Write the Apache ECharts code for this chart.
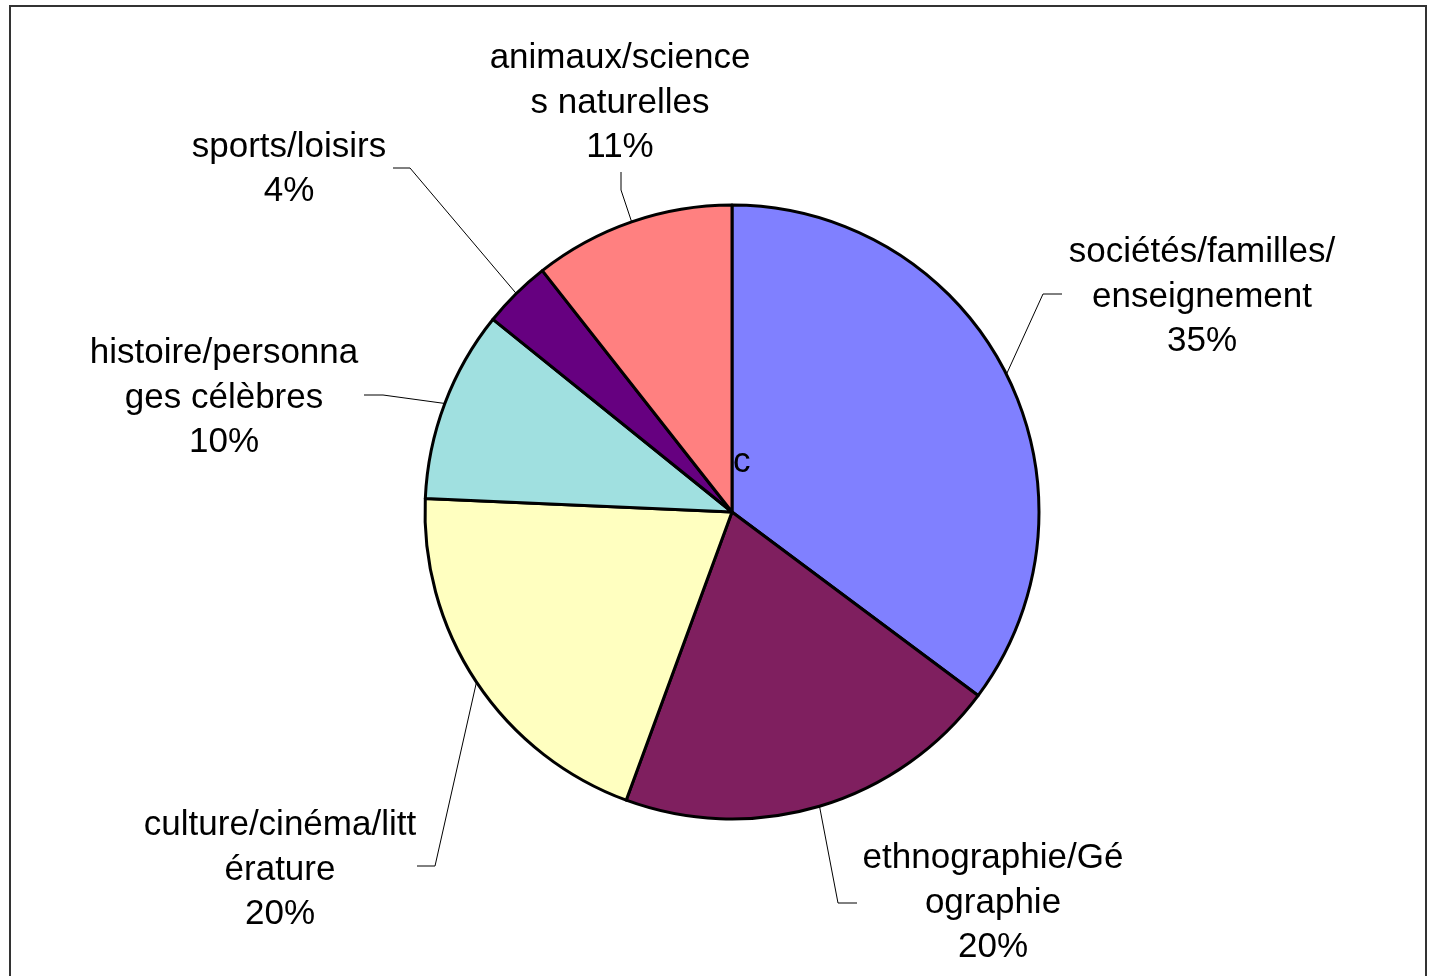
<!DOCTYPE html>
<html>
<head>
<meta charset="utf-8">
<script src="https://cdn.jsdelivr.net/npm/echarts@6/dist/echarts.min.js"></script>
<style>
html,body{margin:0;padding:0;background:#fff;}
#chart{width:1429px;height:976px;}
</style>
</head>
<body>
<div id="chart"></div>
<script>
// ---- data ----
const categories = [
  'sociétés/familles/enseignement',
  'ethnographie/Géographie',
  'culture/cinéma/littérature',
  'histoire/personnages célèbres',
  'sports/loisirs',
  'animaux/sciences naturelles'
];
const values = [35.2, 20.4, 20.1, 10.1, 3.6, 10.6];
const labelTexts = [
  'sociétés/familles/\nenseignement',
  'ethnographie/Gé\nographie',
  'culture/cinéma/litt\nérature',
  'histoire/personna\nges célèbres',
  'sports/loisirs',
  'animaux/science\ns naturelles'
];

// ---- layout / style (not data) ----
const colors = ['#8080FF', '#7F1F5F', '#FFFFC0', '#A0E0E0', '#660080', '#FF8080'];
const labelPos = [[1202, 297], [993, 903], [280, 870], [224, 398], [289, 169.5], [620, 103]];
const leaderPts = [
  [[1043, 294], [1062, 294]],
  [[838, 903], [857, 903]],
  [[435, 866], [417, 866]],
  [[383, 395], [364, 395]],
  [[410, 168], [393, 168]],
  [[621, 190], [621, 172]]
];
const FONT = '"Liberation Sans", Arial, sans-serif';

const chart = echarts.init(document.getElementById('chart'), null, {renderer: 'canvas'});
chart.setOption({
  animation: false,
  backgroundColor: '#ffffff',
  graphic: [
    {type: 'rect', shape: {x: 10, y: 6, width: 1416, height: 1010},
     style: {fill: 'none', stroke: '#333333', lineWidth: 2}, z: 100},
    {type: 'text', left: 733, top: 445,
     style: {text: 'c', font: '35px ' + FONT, fill: '#000'}, z: 100}
  ],
  series: [{
    type: 'pie',
    center: [732, 512],
    radius: [0, 307],
    startAngle: 90,
    clockwise: true,
    avoidLabelOverlap: false,
    selectedMode: false,
    itemStyle: {borderColor: '#000', borderWidth: 3},
    emphasis: {disabled: true},
    label: {
      show: true,
      position: 'outside',
      color: '#000',
      fontFamily: FONT,
      fontSize: 35,
      lineHeight: 44.5,
      align: 'center',
      formatter: function (p) {
        return labelTexts[p.dataIndex] + '\n' + Math.round(p.percent) + '%';
      }
    },
    labelLine: {show: true, length: 20, length2: 20, lineStyle: {color: '#000', width: 1}},
    labelLayout: function (p) {
      const i = p.dataIndex;
      const start = p.labelLinePoints ? p.labelLinePoints[0] : leaderPts[i][0];
      return {
        x: labelPos[i][0],
        y: labelPos[i][1],
        align: 'center',
        verticalAlign: 'middle',
        labelLinePoints: [start, leaderPts[i][0], leaderPts[i][1]]
      };
    },
    data: categories.map(function (c, i) {
      return {name: c, value: values[i], itemStyle: {color: colors[i]}};
    })
  }]
});
</script>
</body>
</html>
